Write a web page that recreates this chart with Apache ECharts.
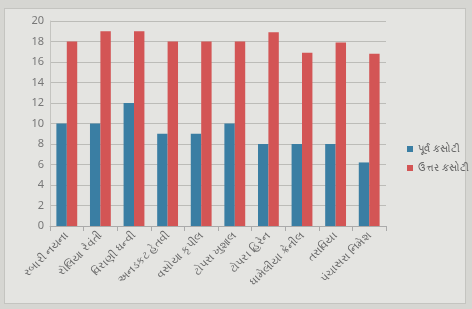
<!DOCTYPE html>
<html>
<head>
<meta charset="utf-8">
<script src="https://cdn.jsdelivr.net/npm/echarts@6/dist/echarts.min.js"></script>
<style>
html,body{margin:0;padding:0;background:#d6d6d2;}
#frame{position:absolute;left:4px;top:8px;width:460px;height:294px;border:1px solid #c4c4c0;background:#e4e4e1;}
#c{position:absolute;left:0;top:0;width:472px;height:309px;}
</style>
</head>
<body>
<div id="frame"></div>
<div id="c"></div>
<script>
var categories = ['રબારી નયના','રોલિયા રેવંતી','વિરાણી ધન્વી','અનડકટ હેતવી','વસોયા કૃપીલ','ટોપરા ખુશાલ','ટોપરા હિરેન','ધામેલીયા ક્રેનીલ','તરાવિયા','પંચાસરા નિમેશ'];
var preTest = [10, 10, 12, 9, 9, 10, 8, 8, 8, 6.2];
var postTest = [18, 19, 19, 18, 18, 18, 18.9, 16.9, 17.9, 16.8];
var seriesNames = ['પૂર્વ કસોટી', 'ઉત્તર કસોટી'];

var chart = echarts.init(document.getElementById('c'));
chart.setOption({
  backgroundColor: 'transparent',
  animation: false,
  textStyle: {fontFamily: 'Noto Sans, DejaVu Sans, sans-serif'},
  grid: {left: 50, right: 86, top: 21, bottom: 83},
  legend: {
    orient: 'vertical', left: 402, top: 139, itemWidth: 6, itemHeight: 6, itemGap: 9,
    icon: 'rect', textStyle: {color: '#666', fontSize: 10},
    data: seriesNames
  },
  xAxis: {
    type: 'category', data: categories,
    axisLine: {lineStyle: {color: '#aaa'}},
    axisTick: {show: true, lineStyle: {color: '#aaa'}},
    axisLabel: {rotate: 45, color: '#666', fontSize: 11, margin: 8, interval: 0}
  },
  yAxis: {
    type: 'value', min: 0, max: 20, interval: 2,
    axisLine: {show: true, lineStyle: {color: '#c4c4c0'}},
    axisLabel: {color: '#777', fontSize: 11, margin: 6},
    splitLine: {lineStyle: {color: '#bcbcb8'}}
  },
  series: [
    {name: seriesNames[0], type: 'bar', data: preTest, barGap: '0%', barCategoryGap: '38%', itemStyle: {color: '#3a7ea3'}},
    {name: seriesNames[1], type: 'bar', data: postTest, itemStyle: {color: '#d35555'}}
  ]
});
</script>
</body>
</html>
